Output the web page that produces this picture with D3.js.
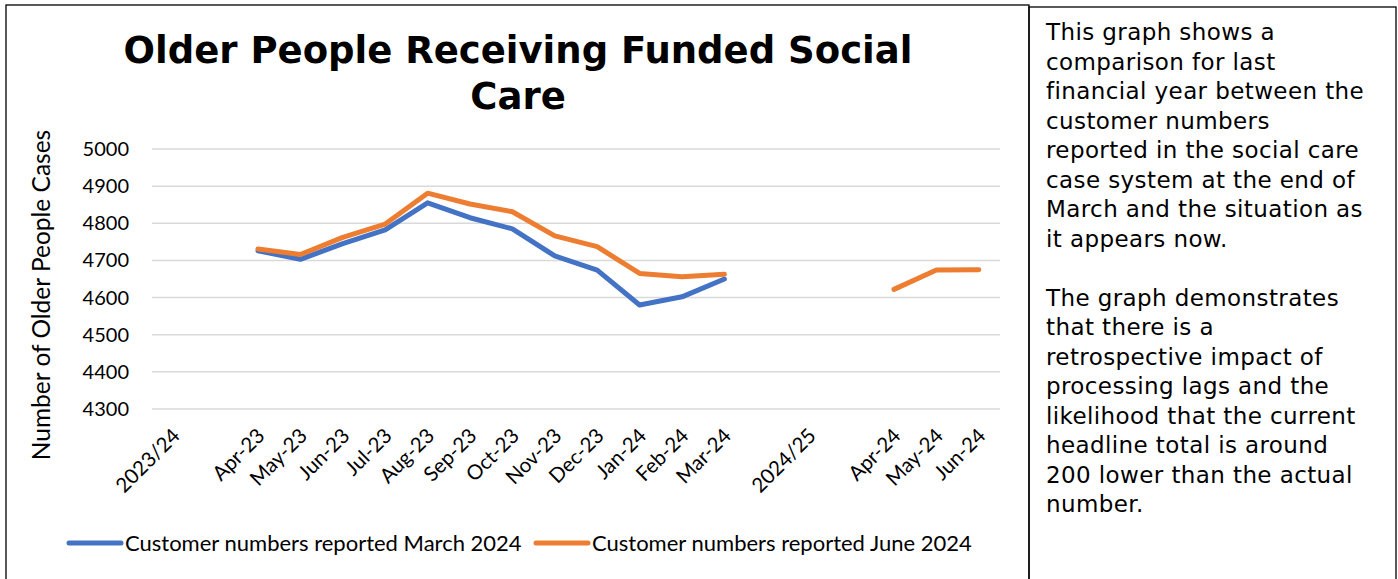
<!DOCTYPE html>
<html>
<head>
<meta charset="utf-8">
<script src="https://cdn.jsdelivr.net/npm/d3@7"></script>
<style>
  body { margin: 0; background: #fff; }
</style>
</head>
<body>
<div id="chart"></div>
<script>
// Categories along the x axis (blank slots are gaps in the original chart)
const categories = ["2023/24", "", "Apr-23", "May-23", "Jun-23", "Jul-23", "Aug-23", "Sep-23",
    "Oct-23", "Nov-23", "Dec-23", "Jan-24", "Feb-24", "Mar-24", " ", "2024/25", "  ",
    "Apr-24", "May-24", "Jun-24"];

// Series values (null = no point)
const marchValues = [null, null, 4726, 4703, 4745, 4782, 4855, 4815, 4785, 4712, 4674, 4580, 4602, 4650,
    null, null, null, null, null, null];
const juneValues = [null, null, 4731, 4716, 4762, 4798, 4881, 4852, 4831, 4766, 4737, 4665, 4656, 4663,
    null, null, null, 4622, 4674, 4675];

const yTicks = [4300, 4400, 4500, 4600, 4700, 4800, 4900, 5000];

const seriesNames = ["Customer numbers reported March 2024", "Customer numbers reported June 2024"];
const seriesColors = ["#4472C4", "#ED7D31"];

const noteParagraphs = [
    ["This graph shows a", "comparison for last", "financial year between the", "customer numbers",
     "reported in the social care", "case system at the end of", "March and the situation as", "it appears now."],
    ["The graph demonstrates", "that there is a", "retrospective impact of", "processing lags and the",
     "likelihood that the current", "headline total is around", "200 lower than the actual", "number."]
];

const W = 1398, H = 579;
const labelFont = "Lato, 'Liberation Sans', sans-serif";

const svg = d3.select("#chart").append("svg")
    .attr("width", W)
    .attr("height", H);

// Chart box and text panel borders
svg.append("rect")
    .attr("x", 6).attr("y", 5)
    .attr("width", 1023).attr("height", H)
    .attr("fill", "none").attr("stroke", "#000").attr("stroke-width", 1.3);

svg.append("rect")
    .attr("x", 1029).attr("y", 7)
    .attr("width", 367).attr("height", H)
    .attr("fill", "none").attr("stroke", "#000").attr("stroke-width", 1.3);

// Plot area
const plot = { left: 152, right: 1000, top: 149, bottom: 409 };

const x = d3.scaleBand()
    .domain(categories)
    .range([plot.left, plot.right]);

const y = d3.scaleLinear()
    .domain([4300, 5000])
    .range([plot.bottom, plot.top]);

// Gridlines
svg.append("g")
    .selectAll("line")
    .data(yTicks)
    .enter()
    .append("line")
    .attr("x1", plot.left)
    .attr("x2", plot.right)
    .attr("y1", d => y(d))
    .attr("y2", d => y(d))
    .attr("stroke", "#d9d9d9")
    .attr("stroke-width", 1.5);

// Y axis labels
svg.append("g")
    .selectAll("text")
    .data(yTicks)
    .enter()
    .append("text")
    .attr("x", 129)
    .attr("y", d => y(d))
    .attr("dy", "0.35em")
    .attr("text-anchor", "end")
    .attr("font-family", labelFont)
    .attr("font-size", "20px")
    .attr("fill", "#000")
    .text(d => d);

// Y axis title
svg.append("text")
    .attr("transform", "translate(50,295) rotate(-90)")
    .attr("text-anchor", "middle")
    .attr("font-family", labelFont)
    .attr("font-size", "24.5px")
    .attr("fill", "#000")
    .text("Number of Older People Cases");

// X axis labels, rotated
svg.append("g")
    .selectAll("text")
    .data(categories.filter(d => d.trim() !== ""))
    .enter()
    .append("text")
    .attr("transform", d => `translate(${x(d) + x.bandwidth() / 2 + 8},${plot.bottom + 28}) rotate(-45)`)
    .attr("text-anchor", "end")
    .attr("font-family", labelFont)
    .attr("font-size", "20.5px")
    .attr("fill", "#000")
    .text(d => d);

// Lines
const line = d3.line()
    .defined(d => d.value !== null)
    .x(d => x(d.cat) + x.bandwidth() / 2)
    .y(d => y(d.value));

[marchValues, juneValues].forEach((vals, i) => {
    const pts = categories.map((c, j) => ({ cat: c, value: vals[j] }));
    svg.append("path")
        .datum(pts)
        .attr("fill", "none")
        .attr("stroke", seriesColors[i])
        .attr("stroke-width", 5)
        .attr("stroke-linejoin", "round")
        .attr("stroke-linecap", "round")
        .attr("d", line);
});

// Title
const title = svg.append("text")
    .attr("text-anchor", "middle")
    .attr("font-family", "'DejaVu Sans', Verdana, sans-serif")
    .attr("font-weight", "bold")
    .attr("font-size", "37px")
    .attr("fill", "#000");
title.append("tspan").attr("x", 518).attr("y", 63).text("Older People Receiving Funded Social");
title.append("tspan").attr("x", 518).attr("y", 109).text("Care");

// Legend
const legendX = [67, 534];
const legend = svg.append("g")
    .selectAll("g")
    .data(seriesNames)
    .enter()
    .append("g")
    .attr("transform", (d, i) => `translate(${legendX[i]},543)`);

legend.append("line")
    .attr("x1", 2).attr("x2", 54)
    .attr("y1", 0).attr("y2", 0)
    .attr("stroke", (d, i) => seriesColors[i])
    .attr("stroke-width", 5)
    .attr("stroke-linecap", "round");

legend.append("text")
    .attr("x", 58)
    .attr("y", 0)
    .attr("dy", "0.35em")
    .attr("font-family", labelFont)
    .attr("font-size", "22px")
    .attr("fill", "#000")
    .text(d => d);

// Note panel text
const note = svg.append("text")
    .attr("font-family", "'DejaVu Sans', Verdana, sans-serif")
    .attr("font-size", "23px")
    .attr("letter-spacing", "0.4px")
    .attr("fill", "#000");

let lineNo = 0;
noteParagraphs.forEach(par => {
    par.forEach(t => {
        note.append("tspan")
            .attr("x", 1046)
            .attr("y", 40 + lineNo * 29.5)
            .text(t);
        lineNo++;
    });
    lineNo++;
});
</script>
</body>
</html>
